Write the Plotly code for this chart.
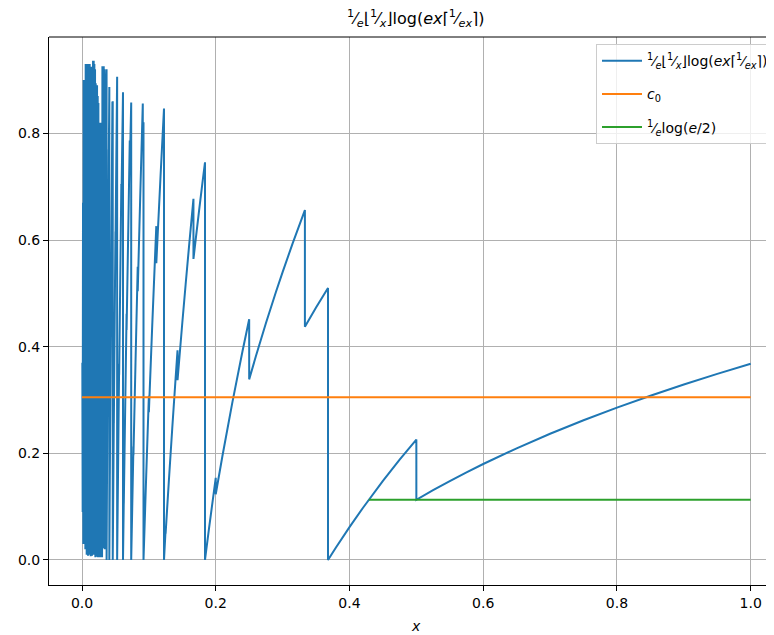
import plotly.graph_objects as go

# ---- data ----
# dense oscillating part near x = 0
x_dense = [0.0005, 0.0010, 0.0015, 0.0020, 0.0025, 0.0030, 0.0035, 0.0040, 0.0045, 0.0050,
           0.0055, 0.0060, 0.0065, 0.0070, 0.0075, 0.0080, 0.0085, 0.0090, 0.0095, 0.0100,
           0.0105, 0.0110, 0.0115, 0.0120, 0.0125, 0.0130, 0.0135, 0.0140, 0.0145, 0.0150,
           0.0155, 0.0160, 0.0165, 0.0170, 0.0175, 0.0180, 0.0185, 0.0190, 0.0195, 0.0200,
           0.0205, 0.0210, 0.0215, 0.0220, 0.0225, 0.0230, 0.0235, 0.0240, 0.0245, 0.0250,
           0.0255, 0.0260, 0.0265, 0.0270, 0.0275, 0.0280, 0.0285, 0.0290, 0.0295, 0.0300,
           0.0305, 0.0310, 0.0315, 0.0320, 0.0325, 0.0330, 0.0335, 0.0340, 0.0345, 0.0350,
           0.0355, 0.0360, 0.0365]
y_dense = [0.37, 0.09, 0.67, 0.03, 0.90, 0.05, 0.89, 0.03, 0.90, 0.02,
           0.93, 0.06, 0.92, 0.01, 0.93, 0.04, 0.925, 0.008, 0.93, 0.03,
           0.915, 0.01, 0.93, 0.02, 0.92, 0.007, 0.925, 0.03, 0.91, 0.008,
           0.925, 0.17, 0.936, 0.01, 0.936, 0.03, 0.93, 0.01, 0.92, 0.005,
           0.894, 0.04, 0.88, 0.006, 0.89, 0.02, 0.87, 0.005, 0.857, 0.03,
           0.82, 0.005, 0.80, 0.04, 0.82, 0.005, 0.81, 0.02, 0.79, 0.005,
           0.926, 0.068, 0.915, 0.05, 0.926, 0.022, 0.92, 0.02, 0.90, 0.03,
           0.91, 0.02, 0.91]

# sawtooth part: (x, y) vertices of the curve; a repeated x is a vertical jump
saw_points = [
    (0.03675, 0.92), (0.036788, 0.0), (0.037037, 0.0670), (0.037037, 0.0645),
    (0.038462, 0.4255), (0.038462, 0.4092), (0.04, 0.7699), (0.04, 0.7391),
    (0.040868, 0.887), (0.040868, 0.0), (0.041667, 0.1693), (0.041667, 0.1622),
    (0.043478, 0.5223), (0.043478, 0.4996), (0.045455, 0.8594), (0.045455, 0.8203),
    (0.045977, 0.86), (0.045977, 0.0), (0.047619, 0.2698), (0.047619, 0.2569),
    (0.05, 0.6159), (0.05, 0.5851), (0.052554, 0.906), (0.052554, 0.0),
    (0.052632, 0.0103), (0.052632, 0.0097), (0.055556, 0.3678), (0.055556, 0.3473),
    (0.058824, 0.7048), (0.058824, 0.6633), (0.061313, 0.877), (0.061313, 0.0),
    (0.0625, 0.1128), (0.0625, 0.1058), (0.066667, 0.4619), (0.066667, 0.4311),
    (0.071429, 0.7864), (0.071429, 0.7303), (0.073576, 0.858), (0.073576, 0.0),
    (0.076923, 0.2128), (0.076923, 0.1964), (0.08, 0.3695), (0.083333, 0.5497),
    (0.083333, 0.5039), (0.087, 0.6782), (0.090909, 0.8560), (0.090909, 0.7782),
    (0.09197, 0.8209), (0.09197, 0.0), (0.096, 0.1578), (0.1, 0.3079),
    (0.1, 0.2772), (0.105, 0.4387), (0.111111, 0.6260), (0.111111, 0.5564),
    (0.1175, 0.7210), (0.122626, 0.8467), (0.122626, 0.0), (0.125, 0.0564),
    (0.125, 0.0494), (0.13, 0.1504), (0.135, 0.2476), (0.14, 0.3412),
    (0.142857, 0.3932), (0.142857, 0.3371), (0.15, 0.4448), (0.155, 0.5171),
    (0.16, 0.5872), (0.166667, 0.6773), (0.166667, 0.5644), (0.17, 0.6008),
    (0.175, 0.6542), (0.18, 0.7060), (0.18394, 0.7458), (0.18394, 0.0),
    (0.19, 0.0596), (0.2, 0.1540), (0.2, 0.1232), (0.21, 0.1950),
    (0.225, 0.2965), (0.24, 0.3915), (0.25, 0.4515), (0.25, 0.3387),
    (0.26, 0.3819), (0.275, 0.4438), (0.29, 0.5025), (0.3, 0.5399),
    (0.315, 0.5937), (0.333333, 0.6562), (0.333333, 0.4374), (0.35, 0.4733),
    (0.367879, 0.5100), (0.367879, 0.0), (0.38, 0.0239), (0.4, 0.0616),
    (0.42, 0.0975), (0.45, 0.1482), (0.475, 0.1880), (0.5, 0.2258),
    (0.5, 0.1129), (0.525, 0.1308), (0.55, 0.1479), (0.575, 0.1643),
    (0.6, 0.1800), (0.65, 0.2094), (0.7, 0.2367), (0.75, 0.2620),
    (0.8, 0.2858), (0.85, 0.3081), (0.9, 0.3291), (0.95, 0.3490), (1.0, 0.3679),
]
x_saw = [p[0] for p in saw_points]
y_saw = [p[1] for p in saw_points]

c0_x = [0.0, 1.0]
c0_y = [0.305, 0.305]
green_x = [0.429, 1.0]
green_y = [0.1129, 0.1129]

x_ticks = [0.0, 0.2, 0.4, 0.6, 0.8, 1.0]
y_ticks = [0.0, 0.2, 0.4, 0.6, 0.8]

blue_label = ("<sup>1</sup>⁄<sub><i>e</i></sub>⌊<sup>1</sup>⁄<sub><i>x</i></sub>⌋log(<i>ex</i>"
              "⌈<sup>1</sup>⁄<sub><i>ex</i></sub>⌉)")
orange_label = "<i>c</i><sub>0</sub>"
green_label = "<sup>1</sup>⁄<sub><i>e</i></sub>log(<i>e</i>/2)"

FONT = "DejaVu Sans"

fig = go.Figure()
fig.add_trace(go.Scatter(x=x_dense + x_saw, y=y_dense + y_saw, mode="lines",
                         line=dict(color="#1f77b4", width=2, simplify=False),
                         name=blue_label, legendgroup="a"))
fig.add_trace(go.Scatter(x=c0_x, y=c0_y, mode="lines",
                         line=dict(color="#ff7f0e", width=2), name=orange_label,
                         legendgroup="b"))
fig.add_trace(go.Scatter(x=green_x, y=green_y, mode="lines",
                         line=dict(color="#2ca02c", width=2), name=green_label,
                         legendgroup="c"))

# the page body adds an 8px offset; the figure is sized so the plot area
# lands at screen px 49..774 (x) and 37..585 (y)
OFF = 8
W, H = 774 - OFF, 635 - OFF
L, T, B = 49 - OFF, 37 - OFF, 50
fig.update_layout(
    width=W, height=H,
    margin=dict(l=L, r=0, t=T, b=B, pad=0),
    paper_bgcolor="white", plot_bgcolor="white",
    font=dict(family=FONT, size=14, color="black"),
    showlegend=True,
    legend=dict(x=1.0, xanchor="right", y=0.987, yanchor="top",
                bgcolor="rgba(255,255,255,0.8)", bordercolor="#cccccc", borderwidth=1,
                font=dict(family=FONT, size=14), tracegroupgap=12,
                itemwidth=40),
    xaxis=dict(range=[(49 - 82) / 668.7, (774 - 82) / 668.7],
               tickvals=x_ticks, ticktext=[f"{v:.1f}" for v in x_ticks],
               showgrid=True, gridcolor="#b0b0b0", gridwidth=1, zeroline=False,
               showline=True, linecolor="black", linewidth=1,
               ticks="outside", ticklen=5, tickcolor="black", tickwidth=1),
    yaxis=dict(range=[-0.0469, 0.9807],
               tickvals=y_ticks, ticktext=[f"{v:.1f}" for v in y_ticks],
               showgrid=True, gridcolor="#b0b0b0", gridwidth=1, zeroline=False,
               showline=True, linecolor="black", linewidth=1,
               ticks="outside", ticklen=5, tickcolor="black", tickwidth=1),
)
# top spine
fig.add_shape(type="line", xref="paper", yref="paper", x0=0, x1=1, y0=1, y1=1,
              line=dict(color="black", width=1))
# title and x label (screen px converted to paper coords of the plot area)
plot_w = 774 - 49
plot_h = 585 - 37
fig.add_annotation(text=blue_label, xref="paper", yref="paper",
                   x=(416 - 49) / plot_w, y=(585 - 18) / plot_h,
                   xanchor="center", yanchor="middle", showarrow=False,
                   font=dict(family=FONT, size=16, color="black"))
fig.add_annotation(text="<i>x</i>", xref="paper", yref="paper",
                   x=(416 - 49) / plot_w, y=(585 - 626) / plot_h,
                   xanchor="center", yanchor="middle", showarrow=False,
                   font=dict(family=FONT, size=14, color="black"))

fig.write_html("out.html")
